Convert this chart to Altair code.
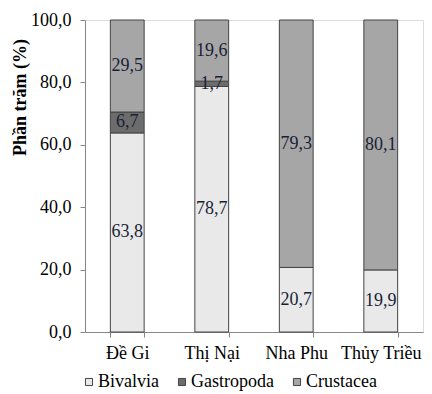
import altair as alt
import pandas as pd

sites = ["Đề Gi", "Thị Nại", "Nha Phu", "Thủy Triều"]
groups = ["Bivalvia", "Gastropoda", "Crustacea"]
bivalvia = [63.8, 78.7, 20.7, 19.9]
gastropoda = [6.7, 1.7, 0.0, 0.0]
crustacea = [29.5, 19.6, 79.3, 80.1]
y_ticks = [0, 20, 40, 60, 80, 100]
fills = ["#e9e9e9", "#6c6c6c", "#a6a6a6"]

rows = []
for i, s in enumerate(sites):
    for j, (g, vals) in enumerate(zip(groups, [bivalvia, gastropoda, crustacea])):
        v = vals[i]
        if v > 0:
            rows.append({"site": s, "group": g, "ord": j, "value": v,
                         "label": f"{v:.1f}".replace(".", ",")})
df = pd.DataFrame(rows)

FONT = "Liberation Serif"
FS = 18

base = alt.Chart(df).transform_stack(
    stack="value", as_=["y0", "y1"], groupby=["site"],
    sort=[alt.SortField("ord", order="ascending")]
).transform_calculate(mid="(datum.y0 + datum.y1) / 2")

x_enc = alt.X("site:N", sort=sites, title=None,
              scale=alt.Scale(paddingInner=0.6, paddingOuter=0.3),
              axis=alt.Axis(labelAngle=0, labelFont=FONT, labelFontSize=FS,
                            labelColor="black", tickBand="extent",
                            domainColor="#888", tickColor="#888", labelPadding=7,
                            tickSize=5))

bars = base.mark_bar(stroke="#444", strokeWidth=1).encode(
    x=x_enc,
    y=alt.Y("y0:Q", title="Phần trăm (%)", scale=alt.Scale(domain=[0, 100]),
            axis=alt.Axis(values=y_ticks, grid=False,
                          labelExpr="replace(format(datum.value, '.1f'), '.', ',')",
                          labelFont=FONT, labelFontSize=FS, labelColor="black",
                          titleFont=FONT, titleFontSize=18, titleFontWeight="bold",
                          titleColor="black", domainColor="#888", tickColor="#888",
                          tickSize=5, labelPadding=9,
                          titleAngle=270, titleX=-65, titleY=77,
                          titleAlign="center", titleBaseline="middle")),
    y2="y1:Q",
    color=alt.Color("group:N", sort=groups,
                    scale=alt.Scale(domain=groups, range=fills),
                    legend=alt.Legend(orient="none", legendX=-5, legendY=353,
                                      direction="horizontal",
                                      title=None, symbolType="square",
                                      symbolSize=50, symbolStrokeColor="#444",
                                      symbolStrokeWidth=1,
                                      labelFont=FONT, labelFontSize=FS,
                                      labelColor="black", columnPadding=14,
                                      labelOffset=0)),
)

texts = base.mark_text(font=FONT, fontSize=FS, color="#1a1f36").encode(
    x=alt.X("site:N", sort=sites),
    y=alt.Y("mid:Q"),
    text="label:N",
)

chart = (bars + texts).properties(
    width=338, height=312,
    autosize=alt.AutoSizeParams(type="none"),
    padding={"left": 77, "right": 1, "top": 12, "bottom": 61},
).configure_view(stroke=None).configure(background="white").configure_legend(
    labelFont=FONT)

chart.save("out.html", embed_options={"renderer": "svg", "actions": False})
